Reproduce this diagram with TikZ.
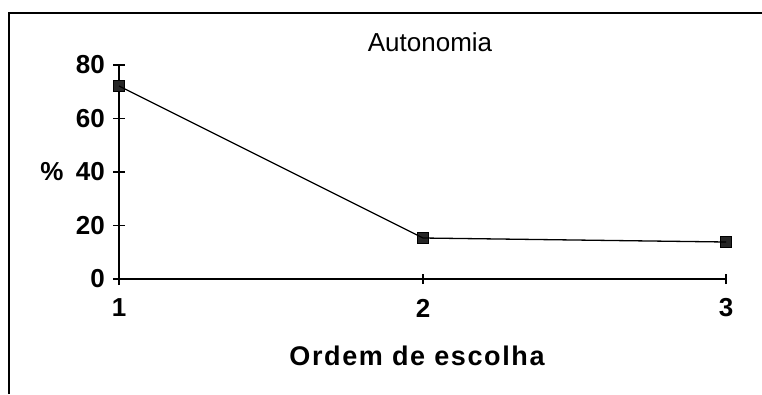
\documentclass[tikz,border=0pt]{standalone}
\usepackage{fontspec}
\setmainfont{Liberation Sans}
\begin{document}
\begin{tikzpicture}[x=1pt,y=-1pt,
  axis/.style={line width=1.4pt},
  tick/.style={line width=1.2pt},
  dataline/.style={line width=1.3pt},
  marker/.style={draw=black,fill=black!85,line width=0.8pt,minimum size=11pt,inner sep=0pt,rectangle},
  ticklab/.style={font=\fontsize{26}{28}\selectfont\bfseries,inner sep=0pt},
  frameline/.style={line width=1.3pt}]
\useasboundingbox (0,0) rectangle (762,394);
% frame (top and left only)
\coordinate (ftl) at (9,13);
\coordinate (ftr) at (762,13);
\coordinate (fbl) at (9,394);
\draw[frameline] (fbl) -- (ftl) -- (ftr);
% axes
\coordinate (o) at (119,279);
\coordinate (ytop) at (119,65);
\coordinate (ybot) at (119,285);
\coordinate (xend) at (726,279);
\draw[axis] (ybot) -- (ytop);
\draw[axis] (o) -- (xend);
% y ticks
\foreach \v/\yy in {0/279,20/225.5,40/172,60/118.5,80/65}{
  \coordinate (yt\v) at (119,\yy);
  \draw[tick] ([xshift=-6pt]yt\v) -- ([xshift=6pt]yt\v);
  \node[ticklab,anchor=east] (yl\v) at (105,\yy) {\v};
}
% x ticks
\foreach \k/\xx in {1/119,2/423,3/726}{
  \coordinate (xt\k) at (\xx,279);
  \draw[tick] ([yshift=-5pt]xt\k) -- ([yshift=5pt]xt\k);
  \node[ticklab] (xl\k) at (\xx,308) {\k};
}
% data
\node[marker] (p1) at (119,86) {};
\node[marker] (p2) at (423,238) {};
\node[marker] (p3) at (726,242) {};
\draw[dataline] (p1.center) -- (p2.center) -- (p3.center);
% labels
\node[ticklab] (pct) at (52,172) {\%};
\node[font=\fontsize{26}{28}\selectfont,inner sep=0pt] (title) at (430,42) {Autonomia};
\node[font=\fontsize{27}{29}\selectfont\bfseries\addfontfeatures{LetterSpace=6},inner sep=0pt] (xtitle) at (417,356) {Ordem de escolha};
\end{tikzpicture}
\end{document}
